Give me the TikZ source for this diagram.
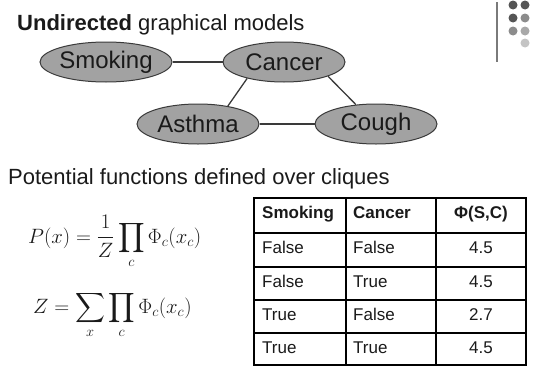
\documentclass[tikz,border=0pt]{standalone}
\usepackage{amsmath}
\usepackage{fontspec}
\setmainfont{Liberation Sans}
\usepackage{tikz}
\usetikzlibrary{shapes.geometric}
\usepackage{xcolor}
\definecolor{inkgray}{HTML}{1A1A1A}
\definecolor{nodegray}{HTML}{A2A2A2}
\definecolor{edgegray}{HTML}{3A3A3A}
\definecolor{barcol}{HTML}{7A7A7A}
\definecolor{dotdark}{HTML}{555555}
\definecolor{dotmid}{HTML}{8C8C8C}
\definecolor{dotlight}{HTML}{A8A8A8}
\definecolor{dotpale}{HTML}{C4C4C4}

\begin{document}
\begin{tikzpicture}[
  x=1pt,y=-1pt,
  var/.style={draw=edgegray,line width=1pt,fill=nodegray,ellipse,minimum width=122pt,minimum height=40pt,inner sep=0pt,text=inkgray,font=\fontsize{24}{28}\selectfont},
  link/.style={edgegray,line width=1.3pt},
  heading/.style={anchor=base west,inner sep=0pt,text=inkgray,font=\fontsize{22}{26}\selectfont},
  formula/.style={anchor=base west,inner sep=0pt,text=inkgray,font=\fontsize{22}{26}\selectfont},
  cell/.style={anchor=base west,inner sep=0pt,text=inkgray,font=\fontsize{17}{20}\selectfont},
  tabline/.style={black,line width=1.3pt}
]
\useasboundingbox (0,0) rectangle (536,367);
\node[heading] (title) at (17,30) {\textbf{Undirected} graphical models};
\draw[barcol,line width=2.2pt] (497,2) -- (497,62);
\fill[dotdark] (513,5) circle (4.5);
\fill[dotdark] (525,5) circle (4.5);
\fill[dotdark] (513,18) circle (4.5);
\fill[dotmid] (525,18) circle (4.5);
\fill[dotmid] (513,31) circle (4.5);
\fill[dotlight] (525,31) circle (4.5);
\fill[dotpale] (525,43) circle (4.5);

\node[var] (smoking) at (106,62) {Smoking};
\node[var] (cancer) at (284,62) {Cancer};
\node[var] (asthma) at (198,124) {Asthma};
\node[var] (cough) at (376,124) {Cough};
\draw[link] (smoking) -- (cancer);
\draw[link] (cancer.204) -- (asthma.31);
\draw[link] (cancer.342) -- (cough.136);
\draw[link] (asthma) -- (cough);

\node[heading] (cliques) at (8,184) {Potential functions defined over cliques};
\node[formula] (pdef) at (28,243) {$\displaystyle P(x)=\frac{1}{Z}\prod_{c}\Phi_{c}(x_{c})$};
\node[formula] (zdef) at (33,313) {$\displaystyle Z=\sum_{x}\prod_{c}\Phi_{c}(x_{c})$};

\draw[tabline,line width=1.8pt] (254,198) rectangle (526,365);
\draw[tabline] (254,233) -- (526,233);
\draw[tabline] (254,267) -- (526,267);
\draw[tabline] (254,300) -- (526,300);
\draw[tabline] (254,333) -- (526,333);
\draw[tabline] (346,198) -- (346,365);
\draw[tabline] (436,198) -- (436,365);
\node[cell] (h1) at (262,218) {\textbf{Smoking}};
\node[cell] (h2) at (353,218) {\textbf{Cancer}};
\node[cell,anchor=base] (h3) at (481,218) {\textbf{Φ(S,C)}};
\node[cell] (a1) at (262,253) {False};
\node[cell] (a2) at (353,253) {False};
\node[cell,anchor=base] (a3) at (481,253) {4.5};
\node[cell] (b1) at (262,287) {False};
\node[cell] (b2) at (353,287) {True};
\node[cell,anchor=base] (b3) at (481,287) {4.5};
\node[cell] (c1) at (262,320) {True};
\node[cell] (c2) at (353,320) {False};
\node[cell,anchor=base] (c3) at (481,320) {2.7};
\node[cell] (d1) at (262,353) {True};
\node[cell] (d2) at (353,353) {True};
\node[cell,anchor=base] (d3) at (481,353) {4.5};
\end{tikzpicture}
\end{document}
